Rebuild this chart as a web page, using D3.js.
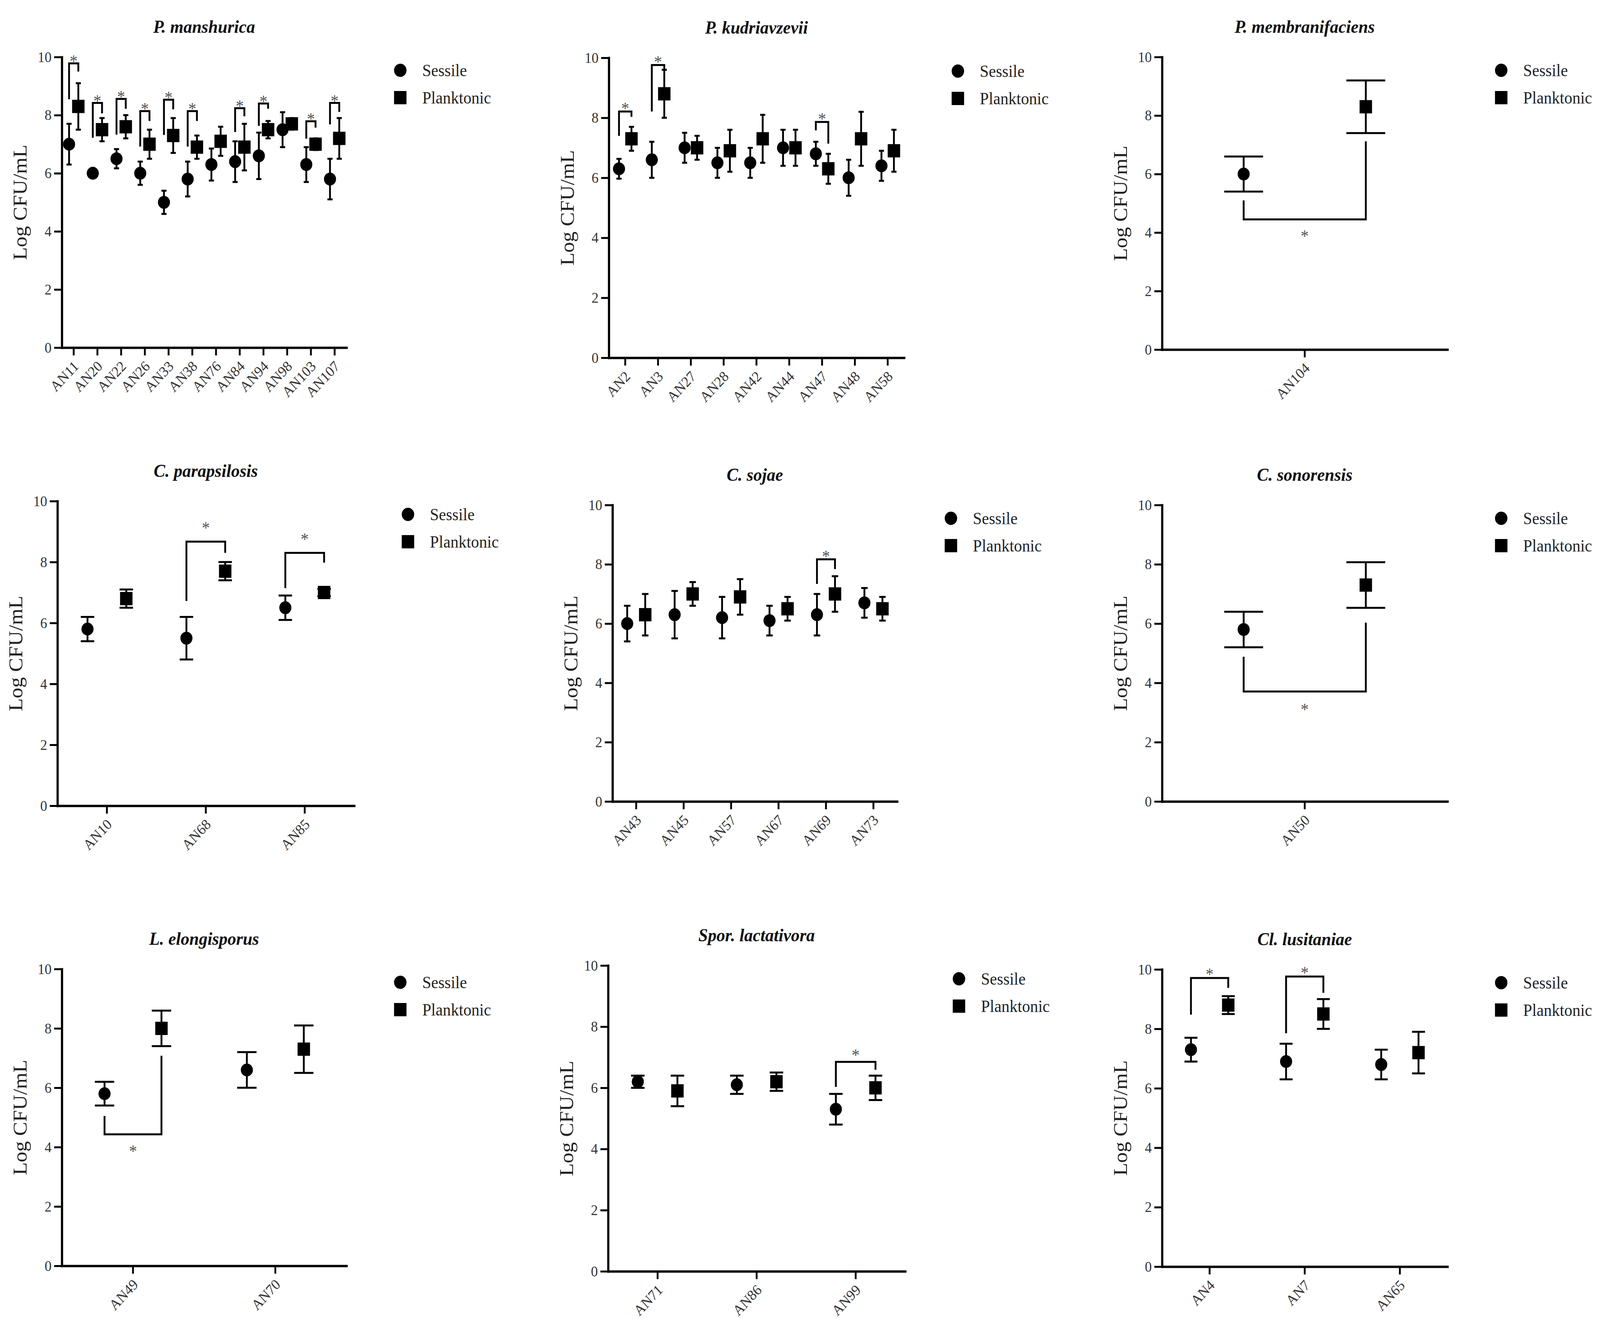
<!DOCTYPE html>
<html>
<head>
<meta charset="utf-8">
<script src="https://cdn.jsdelivr.net/npm/d3@7"></script>
<style>
  html, body { margin: 0; padding: 0; background: #fff; overflow: hidden; }
  svg { display: block; width: 100vw; height: 100vh; }
  text { font-family: "Liberation Serif", "Times New Roman", serif; }
</style>
</head>
<body>
<div id="chart"></div>
<script>
// ---- data ----
const yTicks = [0, 2, 4, 6, 8, 10];
const legendLabels = ["Sessile", "Planktonic"];
const yLabel = "Log CFU/mL";

const manshuricaStrains = ["AN11", "AN20", "AN22", "AN26", "AN33", "AN38", "AN76", "AN84", "AN94", "AN98", "AN103", "AN107"];
const manshuricaSessile = [7.0, 6.0, 6.5, 6.0, 5.0, 5.8, 6.3, 6.4, 6.6, 7.5, 6.3, 5.8];
const manshuricaSessileSd = [0.7, 0.15, 0.33, 0.4, 0.4, 0.6, 0.55, 0.7, 0.8, 0.6, 0.6, 0.7];
const manshuricaPlanktonic = [8.3, 7.5, 7.6, 7.0, 7.3, 6.9, 7.1, 6.9, 7.5, 7.7, 7.0, 7.2];
const manshuricaPlanktonicSd = [0.8, 0.4, 0.4, 0.5, 0.6, 0.4, 0.5, 0.8, 0.3, 0.2, 0.2, 0.7];
const manshuricaSig = [
  { strain: "AN11", bar: 9.78, left: 8.55, right: 9.5 },
  { strain: "AN20", bar: 8.42, left: 7.22, right: 8.06 },
  { strain: "AN22", bar: 8.56, left: 7.33, right: 8.22 },
  { strain: "AN26", bar: 8.14, left: 6.92, right: 7.8 },
  { strain: "AN33", bar: 8.53, left: 7.32, right: 8.2 },
  { strain: "AN38", bar: 8.14, left: 6.92, right: 7.8 },
  { strain: "AN84", bar: 8.24, left: 7.42, right: 7.96 },
  { strain: "AN94", bar: 8.4, left: 7.63, right: 8.22 },
  { strain: "AN103", bar: 7.79, left: 7.19, right: 7.57 },
  { strain: "AN107", bar: 8.42, left: 7.68, right: 8.11 }
];

const kudriavzeviiStrains = ["AN2", "AN3", "AN27", "AN28", "AN42", "AN44", "AN47", "AN48", "AN58"];
const kudriavzeviiSessile = [6.3, 6.6, 7.0, 6.5, 6.5, 7.0, 6.8, 6.0, 6.4];
const kudriavzeviiSessileSd = [0.33, 0.6, 0.5, 0.5, 0.5, 0.6, 0.4, 0.6, 0.5];
const kudriavzeviiPlanktonic = [7.3, 8.8, 7.0, 6.9, 7.3, 7.0, 6.3, 7.3, 6.9];
const kudriavzeviiPlanktonicSd = [0.4, 0.8, 0.4, 0.7, 0.8, 0.6, 0.5, 0.9, 0.7];
const kudriavzeviiSig = [
  { strain: "AN2", bar: 8.21, left: 7.4, right: 8.03 },
  { strain: "AN3", bar: 9.76, left: 8.21, right: 9.6 },
  { strain: "AN47", bar: 7.86, left: 7.58, right: 7.14 }
];

const membranifaciensStrains = ["AN104"];
const membranifaciensSessile = [6.0];
const membranifaciensSessileSd = [0.6];
const membranifaciensPlanktonic = [8.3];
const membranifaciensPlanktonicSd = [0.9];
const membranifaciensSig = [{ strain: "AN104", bar: 4.45, left: 5.1, right: 7.12 }];

const parapsilosisStrains = ["AN10", "AN68", "AN85"];
const parapsilosisSessile = [5.8, 5.5, 6.5];
const parapsilosisSessileSd = [0.4, 0.7, 0.4];
const parapsilosisPlanktonic = [6.8, 7.7, 7.0];
const parapsilosisPlanktonicSd = [0.3, 0.3, 0.12];
const parapsilosisSig = [
  { strain: "AN68", bar: 8.67, left: 6.72, right: 8.3 },
  { strain: "AN85", bar: 8.3, left: 7.14, right: 7.98 }
];

const sojaeStrains = ["AN43", "AN45", "AN57", "AN67", "AN69", "AN73"];
const sojaeSessile = [6.0, 6.3, 6.2, 6.1, 6.3, 6.7];
const sojaeSessileSd = [0.6, 0.8, 0.7, 0.5, 0.7, 0.5];
const sojaePlanktonic = [6.3, 7.0, 6.9, 6.5, 7.0, 6.5];
const sojaePlanktonicSd = [0.7, 0.4, 0.6, 0.4, 0.6, 0.4];
const sojaeSig = [{ strain: "AN69", bar: 8.17, left: 7.34, right: 7.84 }];

const sonorensisStrains = ["AN50"];
const sonorensisSessile = [5.8];
const sonorensisSessileSd = [0.6];
const sonorensisPlanktonic = [7.3];
const sonorensisPlanktonicSd = [0.77];
const sonorensisSig = [{ strain: "AN50", bar: 3.71, left: 4.88, right: 6.03 }];

const elongisporusStrains = ["AN49", "AN70"];
const elongisporusSessile = [5.8, 6.6];
const elongisporusSessileSd = [0.4, 0.6];
const elongisporusPlanktonic = [8.0, 7.3];
const elongisporusPlanktonicSd = [0.6, 0.8];
const elongisporusSig = [{ strain: "AN49", bar: 4.43, left: 5.05, right: 7.08 }];

const lactativoraStrains = ["AN71", "AN86", "AN99"];
const lactativoraSessile = [6.2, 6.1, 5.3];
const lactativoraSessileSd = [0.2, 0.3, 0.5];
const lactativoraPlanktonic = [5.9, 6.2, 6.0];
const lactativoraPlanktonicSd = [0.5, 0.3, 0.4];
const lactativoraSig = [{ strain: "AN99", bar: 6.85, left: 6.03, right: 6.59 }];

const lusitaniaeStrains = ["AN4", "AN7", "AN65"];
const lusitaniaeSessile = [7.3, 6.9, 6.8];
const lusitaniaeSessileSd = [0.4, 0.6, 0.5];
const lusitaniaePlanktonic = [8.8, 8.5, 7.2];
const lusitaniaePlanktonicSd = [0.3, 0.5, 0.7];
const lusitaniaeSig = [
  { strain: "AN4", bar: 9.71, left: 8.48, right: 9.38 },
  { strain: "AN7", bar: 9.76, left: 7.85, right: 9.21 }
];

const panels = [
  { title: "P. manshurica", strains: manshuricaStrains, s: manshuricaSessile, sSd: manshuricaSessileSd, p: manshuricaPlanktonic, pSd: manshuricaPlanktonicSd, sig: manshuricaSig },
  { title: "P. kudriavzevii", strains: kudriavzeviiStrains, s: kudriavzeviiSessile, sSd: kudriavzeviiSessileSd, p: kudriavzeviiPlanktonic, pSd: kudriavzeviiPlanktonicSd, sig: kudriavzeviiSig },
  { title: "P. membranifaciens", strains: membranifaciensStrains, s: membranifaciensSessile, sSd: membranifaciensSessileSd, p: membranifaciensPlanktonic, pSd: membranifaciensPlanktonicSd, sig: membranifaciensSig },
  { title: "C. parapsilosis", strains: parapsilosisStrains, s: parapsilosisSessile, sSd: parapsilosisSessileSd, p: parapsilosisPlanktonic, pSd: parapsilosisPlanktonicSd, sig: parapsilosisSig },
  { title: "C. sojae", strains: sojaeStrains, s: sojaeSessile, sSd: sojaeSessileSd, p: sojaePlanktonic, pSd: sojaePlanktonicSd, sig: sojaeSig },
  { title: "C. sonorensis", strains: sonorensisStrains, s: sonorensisSessile, sSd: sonorensisSessileSd, p: sonorensisPlanktonic, pSd: sonorensisPlanktonicSd, sig: sonorensisSig },
  { title: "L. elongisporus", strains: elongisporusStrains, s: elongisporusSessile, sSd: elongisporusSessileSd, p: elongisporusPlanktonic, pSd: elongisporusPlanktonicSd, sig: elongisporusSig },
  { title: "Spor. lactativora", strains: lactativoraStrains, s: lactativoraSessile, sSd: lactativoraSessileSd, p: lactativoraPlanktonic, pSd: lactativoraPlanktonicSd, sig: lactativoraSig },
  { title: "Cl. lusitaniae", strains: lusitaniaeStrains, s: lusitaniaeSessile, sSd: lusitaniaeSessileSd, p: lusitaniaePlanktonic, pSd: lusitaniaePlanktonicSd, sig: lusitaniaeSig }
];

// ---- layout (pixels in a 4373 x 3395 frame) ----
const layout = [
  { x0: 169, x1: 947, top: 146, bottom: 890, off: 0.195, starGap: 12 },
  { x0: 1664, x1: 2471, top: 148, bottom: 916, off: 0.19, starGap: 14 },
  { x0: 3176, x1: 3956, top: 146, bottom: 895, off: 0.214, starGap: 36 },
  { x0: 157, x1: 968, top: 1283, bottom: 2063, off: 0.196, starGap: 42 },
  { x0: 1674, x1: 2452, top: 1293, bottom: 2052, off: 0.19, starGap: 14 },
  { x0: 3176, x1: 3956, top: 1293, bottom: 2052, off: 0.214, starGap: 40 },
  { x0: 169, x1: 947, top: 2481, bottom: 3241, off: 0.2, starGap: 37 },
  { x0: 1662, x1: 2474, top: 2472, bottom: 3255, off: 0.2, starGap: 24 },
  { x0: 3176, x1: 3956, top: 2482, bottom: 3243, off: 0.196, starGap: 16 }
];

const width = 4373;
const height = 3395;

// the frame is stretched onto the whole viewport, whatever its exact size
const svg = d3.select("#chart")
  .append("svg")
  .attr("viewBox", `0 0 ${width} ${height}`)
  .attr("preserveAspectRatio", "none");

svg.append("rect").attr("width", width).attr("height", height).attr("fill", "#fff");

panels.forEach((p, i) => drawPanel(p, layout[i]));

function drawPanel(p, L) {
  const g = svg.append("g");

  const x = d3.scaleBand().domain(p.strains).range([L.x0, L.x1]);
  const y = d3.scaleLinear().domain([0, 10]).range([L.bottom, L.top]);
  const bw = x.bandwidth();
  const off = bw * L.off;
  const cap = Math.max(7, bw * 0.068);
  const sx = s => x(s) + bw / 2 - off;
  const px = s => x(s) + bw / 2 + off;

  // Axes
  const yAxis = g.append("g")
    .attr("transform", `translate(${L.x0},0)`)
    .call(d3.axisLeft(y).tickValues(yTicks).tickSize(21).tickSizeOuter(0).tickPadding(7));

  const xAxis = g.append("g")
    .attr("transform", `translate(0,${L.bottom})`)
    .call(d3.axisBottom(x).tickSize(20).tickSizeOuter(0));

  [yAxis, xAxis].forEach(a => {
    a.select(".domain").attr("stroke", "#000").attr("stroke-width", 6).attr("stroke-linecap", "square");
    a.selectAll(".tick line").attr("stroke", "#000").attr("stroke-width", 5);
    a.selectAll(".tick text")
      .attr("fill", "#333")
      .style("font-family", '"Liberation Serif", "Times New Roman", serif')
      .style("font-size", "38px");
  });

  xAxis.selectAll(".tick text")
    .attr("x", 0).attr("y", 0).attr("dy", 0)
    .attr("text-anchor", "end")
    .attr("transform", "translate(16,50) rotate(-45)");

  // y label
  g.append("text")
    .attr("transform", `translate(${L.x0 - 96},${(L.top + L.bottom) / 2}) rotate(-90)`)
    .attr("text-anchor", "middle")
    .attr("fill", "#222")
    .style("font-size", "54px")
    .text(yLabel);

  // Title
  g.append("text")
    .attr("x", (L.x0 + L.x1) / 2)
    .attr("y", L.top - 62)
    .attr("text-anchor", "middle")
    .attr("fill", "#111")
    .style("font-size", "47px")
    .style("font-weight", "bold")
    .style("font-style", "italic")
    .text(p.title);

  // Error bars
  const bars = [];
  p.strains.forEach((s, k) => {
    bars.push({ cx: sx(s), m: p.s[k], sd: p.sSd[k] });
    bars.push({ cx: px(s), m: p.p[k], sd: p.pSd[k] });
  });

  const eb = g.append("g").attr("stroke", "#000").attr("stroke-width", 5).attr("fill", "none");
  eb.selectAll("path")
    .data(bars)
    .join("path")
    .attr("d", d => {
      const yt = y(d.m + d.sd), yb = y(d.m - d.sd);
      return `M${d.cx},${yt}V${yb}M${d.cx - cap},${yt}H${d.cx + cap}M${d.cx - cap},${yb}H${d.cx + cap}`;
    });

  // Sessile: circles
  g.selectAll("circle.sessile")
    .data(p.strains)
    .join("circle")
    .attr("class", "sessile")
    .attr("cx", s => sx(s))
    .attr("cy", (s, k) => y(p.s[k]))
    .attr("r", 16.5)
    .attr("fill", "#000");

  // Planktonic: squares
  g.selectAll("rect.planktonic")
    .data(p.strains)
    .join("rect")
    .attr("class", "planktonic")
    .attr("x", s => px(s) - 17)
    .attr("y", (s, k) => y(p.p[k]) - 17)
    .attr("width", 34)
    .attr("height", 34)
    .attr("fill", "#000");

  // Significance brackets
  const sig = g.append("g");
  sig.selectAll("path")
    .data(p.sig)
    .join("path")
    .attr("fill", "none")
    .attr("stroke", "#000")
    .attr("stroke-width", 5)
    .attr("d", d => `M${sx(d.strain)},${y(d.left)}V${y(d.bar)}H${px(d.strain)}V${y(d.right)}`);

  sig.selectAll("text")
    .data(p.sig)
    .join("text")
    .attr("x", d => (sx(d.strain) + px(d.strain)) / 2)
    .attr("y", d => {
      const below = d.bar < d.left;
      const c = below ? y(d.bar) + L.starGap : y(d.bar) - L.starGap;
      return c + 21;
    })
    .attr("text-anchor", "middle")
    .attr("fill", "#555")
    .style("font-size", "44px")
    .text("*");

  // Legend
  const lx = L.x1 + 147;
  const leg = g.append("g");
  leg.append("circle").attr("cx", lx).attr("cy", L.top + 34).attr("r", 17).attr("fill", "#000");
  leg.append("rect").attr("x", lx - 17).attr("y", L.top + 104 - 17).attr("width", 34).attr("height", 34).attr("fill", "#000");
  leg.selectAll("text")
    .data(legendLabels)
    .join("text")
    .attr("x", lx + 60)
    .attr("y", (d, k) => L.top + (k === 0 ? 34 : 104))
    .attr("dy", "0.35em")
    .attr("fill", "#222")
    .style("font-size", "44px")
    .text(d => d);
}
</script>
</body>
</html>
